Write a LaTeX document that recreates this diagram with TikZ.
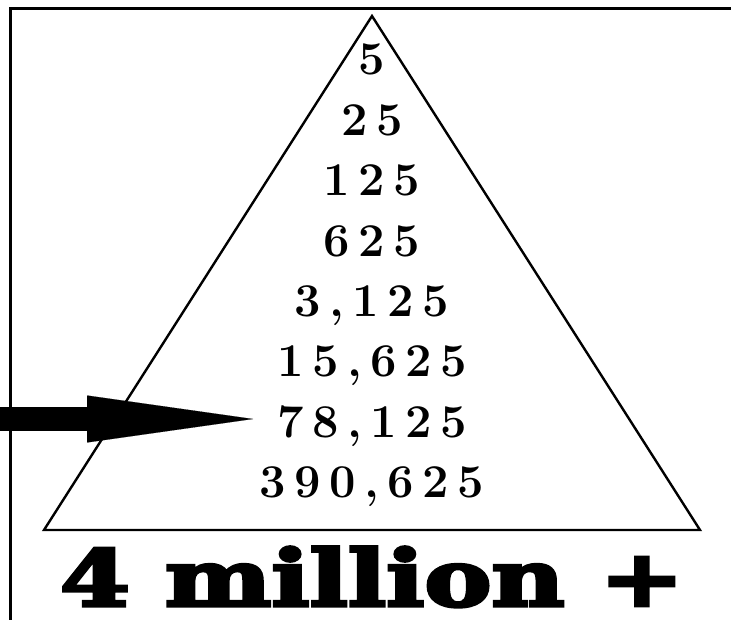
\documentclass[tikz,border=0pt]{standalone}
\usepackage{fontspec}
\newfontfamily\heavyfont[FakeBold=4]{DejaVu Serif}
\newfontfamily\numfont[LetterSpace=18]{Latin Modern Roman}
\usetikzlibrary{arrows.meta}

\begin{document}
\begin{tikzpicture}[x=1pt, y=-1pt,
  num/.style={font=\fontsize{47}{50}\numfont\bfseries, inner sep=0pt, anchor=base},
  pointer/.style={line width=24pt, -{Triangle[length=166pt, width=47pt, line width=0.1pt]}}]
  \useasboundingbox (0,0) rectangle (731,620);
  % frame
  \draw[line width=3.5pt] (10.5,620) -- (10.5,8.5) -- (731,8.5);
  % pyramid
  \coordinate (apex) at (372,16);
  \coordinate (baseL) at (44,530);
  \coordinate (baseR) at (700,530);
  \draw[line width=2.4pt, line join=miter] (apex) -- (baseR) -- (baseL) -- cycle;
  \foreach \v [count=\i from 0] in {{5},{25},{125},{625},{3,125},{15,625},{78,125},{390,625}}
    \node[num] (n\i) at (372,{75+60.4*\i}) {\v};
  \node[font=\fontsize{78}{80}\heavyfont\bfseries, xscale=1.29, inner sep=0pt, text depth=0pt, anchor=base] (total) at (372,606) {4 million +};
  % arrow
  \coordinate (tail) at (0,419);
  \draw[pointer, shorten >=24pt] (tail) -- (tail -| n6.west);
\end{tikzpicture}
\end{document}
